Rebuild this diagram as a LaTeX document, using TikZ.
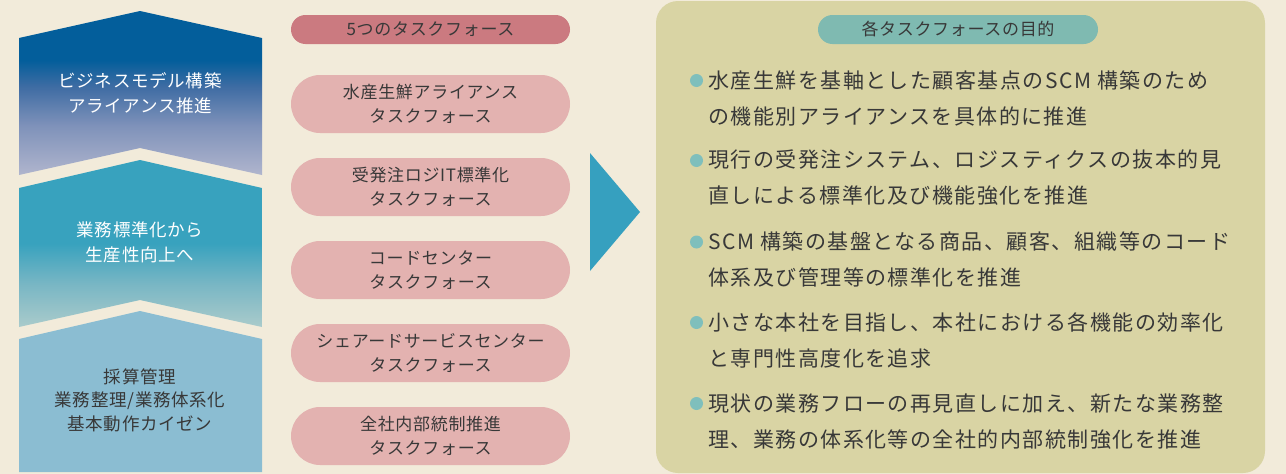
\documentclass[tikz,border=0pt]{standalone}
\usepackage{fontspec}
\setmainfont{Noto Sans CJK JP}
\newfontfamily\jpsmall{Noto Sans CJK JP}[LetterSpace=4]
\newfontfamily\jpbody{Noto Sans CJK JP}[LetterSpace=7]
\definecolor{bgc}{HTML}{F2EBDA}
\definecolor{txt}{HTML}{383838}
\definecolor{topL}{HTML}{B0B5CD}
\definecolor{topM}{HTML}{7F92BA}
\definecolor{topM2}{HTML}{3E6CA3}
\definecolor{topD}{HTML}{035E9B}
\definecolor{midL}{HTML}{AACBCB}
\definecolor{midM}{HTML}{78B6C4}
\definecolor{midD}{HTML}{38A2BE}
\definecolor{lowc}{HTML}{8BBDD2}
\definecolor{headc}{HTML}{CB7A80}
\definecolor{pillc}{HTML}{E3B2B0}
\definecolor{arrowc}{HTML}{36A0BF}
\definecolor{panelc}{HTML}{D9D4A4}
\definecolor{head2c}{HTML}{7FBAB1}
\definecolor{bulc}{HTML}{7FBFBC}
\pgfdeclareverticalshading{topsh}{100bp}{color(0bp)=(topL); color(25bp)=(topL); color(40bp)=(topM); color(52bp)=(topM2); color(60bp)=(topD); color(100bp)=(topD)}
\pgfdeclareverticalshading{midsh}{100bp}{color(0bp)=(midL); color(25bp)=(midL); color(38bp)=(midM); color(50bp)=(midD); color(100bp)=(midD)}
\begin{document}
\begin{tikzpicture}[x=1pt,y=-1pt,
  lefttxt/.style={font=\jpsmall\fontsize{17.5}{25}\selectfont, align=center, inner sep=0pt},
  pilltxt/.style={font=\jpsmall\fontsize{17}{24}\selectfont, align=center, text=txt},
  pill/.style={pilltxt, fill=pillc, rounded corners=29pt, minimum width=279pt, minimum height=58pt, inner sep=0pt},
  headpill/.style={pilltxt, rounded corners=14.5pt, minimum height=29pt, inner sep=0pt},
  bodytxt/.style={font=\jpbody\fontsize{21}{36}\selectfont, align=left, inner sep=0pt, text=txt, anchor=west},
  bullet/.style={circle, fill=bulc, minimum size=13pt, inner sep=0pt}]
\useasboundingbox (0,0) rectangle (1286,474);
\fill[bgc] (0,0) rectangle (1286,474);
% left chevrons
\shade[shading=topsh] (19,38) -- (140,11) -- (262,38) -- (262,175) -- (140,148) -- (19,175) -- cycle;
\shade[shading=midsh] (19,188) -- (140,160) -- (262,188) -- (262,327) -- (140,300) -- (19,327) -- cycle;
\fill[lowc] (19,339) -- (140,311) -- (262,339) -- (262,472) -- (19,472) -- cycle;
\node[lefttxt, text=white] (t1) at (140,93) {ビジネスモデル構築\\アライアンス推進};
\node[lefttxt, text=white] (t2) at (140,242) {業務標準化から\\生産性向上へ};
\node[lefttxt, text=txt, font=\jpsmall\fontsize{17.5}{23.5}\selectfont] (t3) at (140,400) {採算管理\\業務整理/業務体系化\\基本動作カイゼン};
% middle column
\node[headpill, fill=headc, minimum width=279pt] (h1) at (430.5,29.5) {5つのタスクフォース};
\node[pill] (p1) at (430.5,104) {水産生鮮アライアンス\\タスクフォース};
\node[pill] (p2) at (430.5,187) {受発注ロジIT標準化\\タスクフォース};
\node[pill] (p3) at (430.5,270) {コードセンター\\タスクフォース};
\node[pill] (p4) at (430.5,353) {シェアードサービスセンター\\タスクフォース};
\node[pill] (p5) at (430.5,436) {全社内部統制推進\\タスクフォース};
% arrow
\fill[arrowc] (590,153) -- (640,212) -- (590,271) -- cycle;
% right panel
\fill[panelc, rounded corners=22pt] (656,1) rectangle (1265,473);
\node[headpill, fill=head2c, minimum width=280pt] (h2) at (958,29.5) {各タスクフォースの目的};
\node[bullet] (b1) at (696.5,80.5) {};
\node[bullet] (b2) at (696.5,160.5) {};
\node[bullet] (b3) at (696.5,242) {};
\node[bullet] (b4) at (696.5,322.5) {};
\node[bullet] (b5) at (696.5,403.5) {};
\node[bodytxt] (i1) at (708,98) {水産生鮮を基軸とした顧客基点のSCM 構築のため\\の機能別アライアンスを具体的に推進};
\node[bodytxt] (i2) at (708,178) {現行の受発注システム、ロジスティクスの抜本的見\\直しによる標準化及び機能強化を推進};
\node[bodytxt] (i3) at (708,259.5) {SCM 構築の基盤となる商品、顧客、組織等のコード\\体系及び管理等の標準化を推進};
\node[bodytxt] (i4) at (708,340) {小さな本社を目指し、本社における各機能の効率化\\と専門性高度化を追求};
\node[bodytxt] (i5) at (708,421.5) {現状の業務フローの再見直しに加え、新たな業務整\\理、業務の体系化等の全社的内部統制強化を推進};
\end{tikzpicture}
\end{document}
